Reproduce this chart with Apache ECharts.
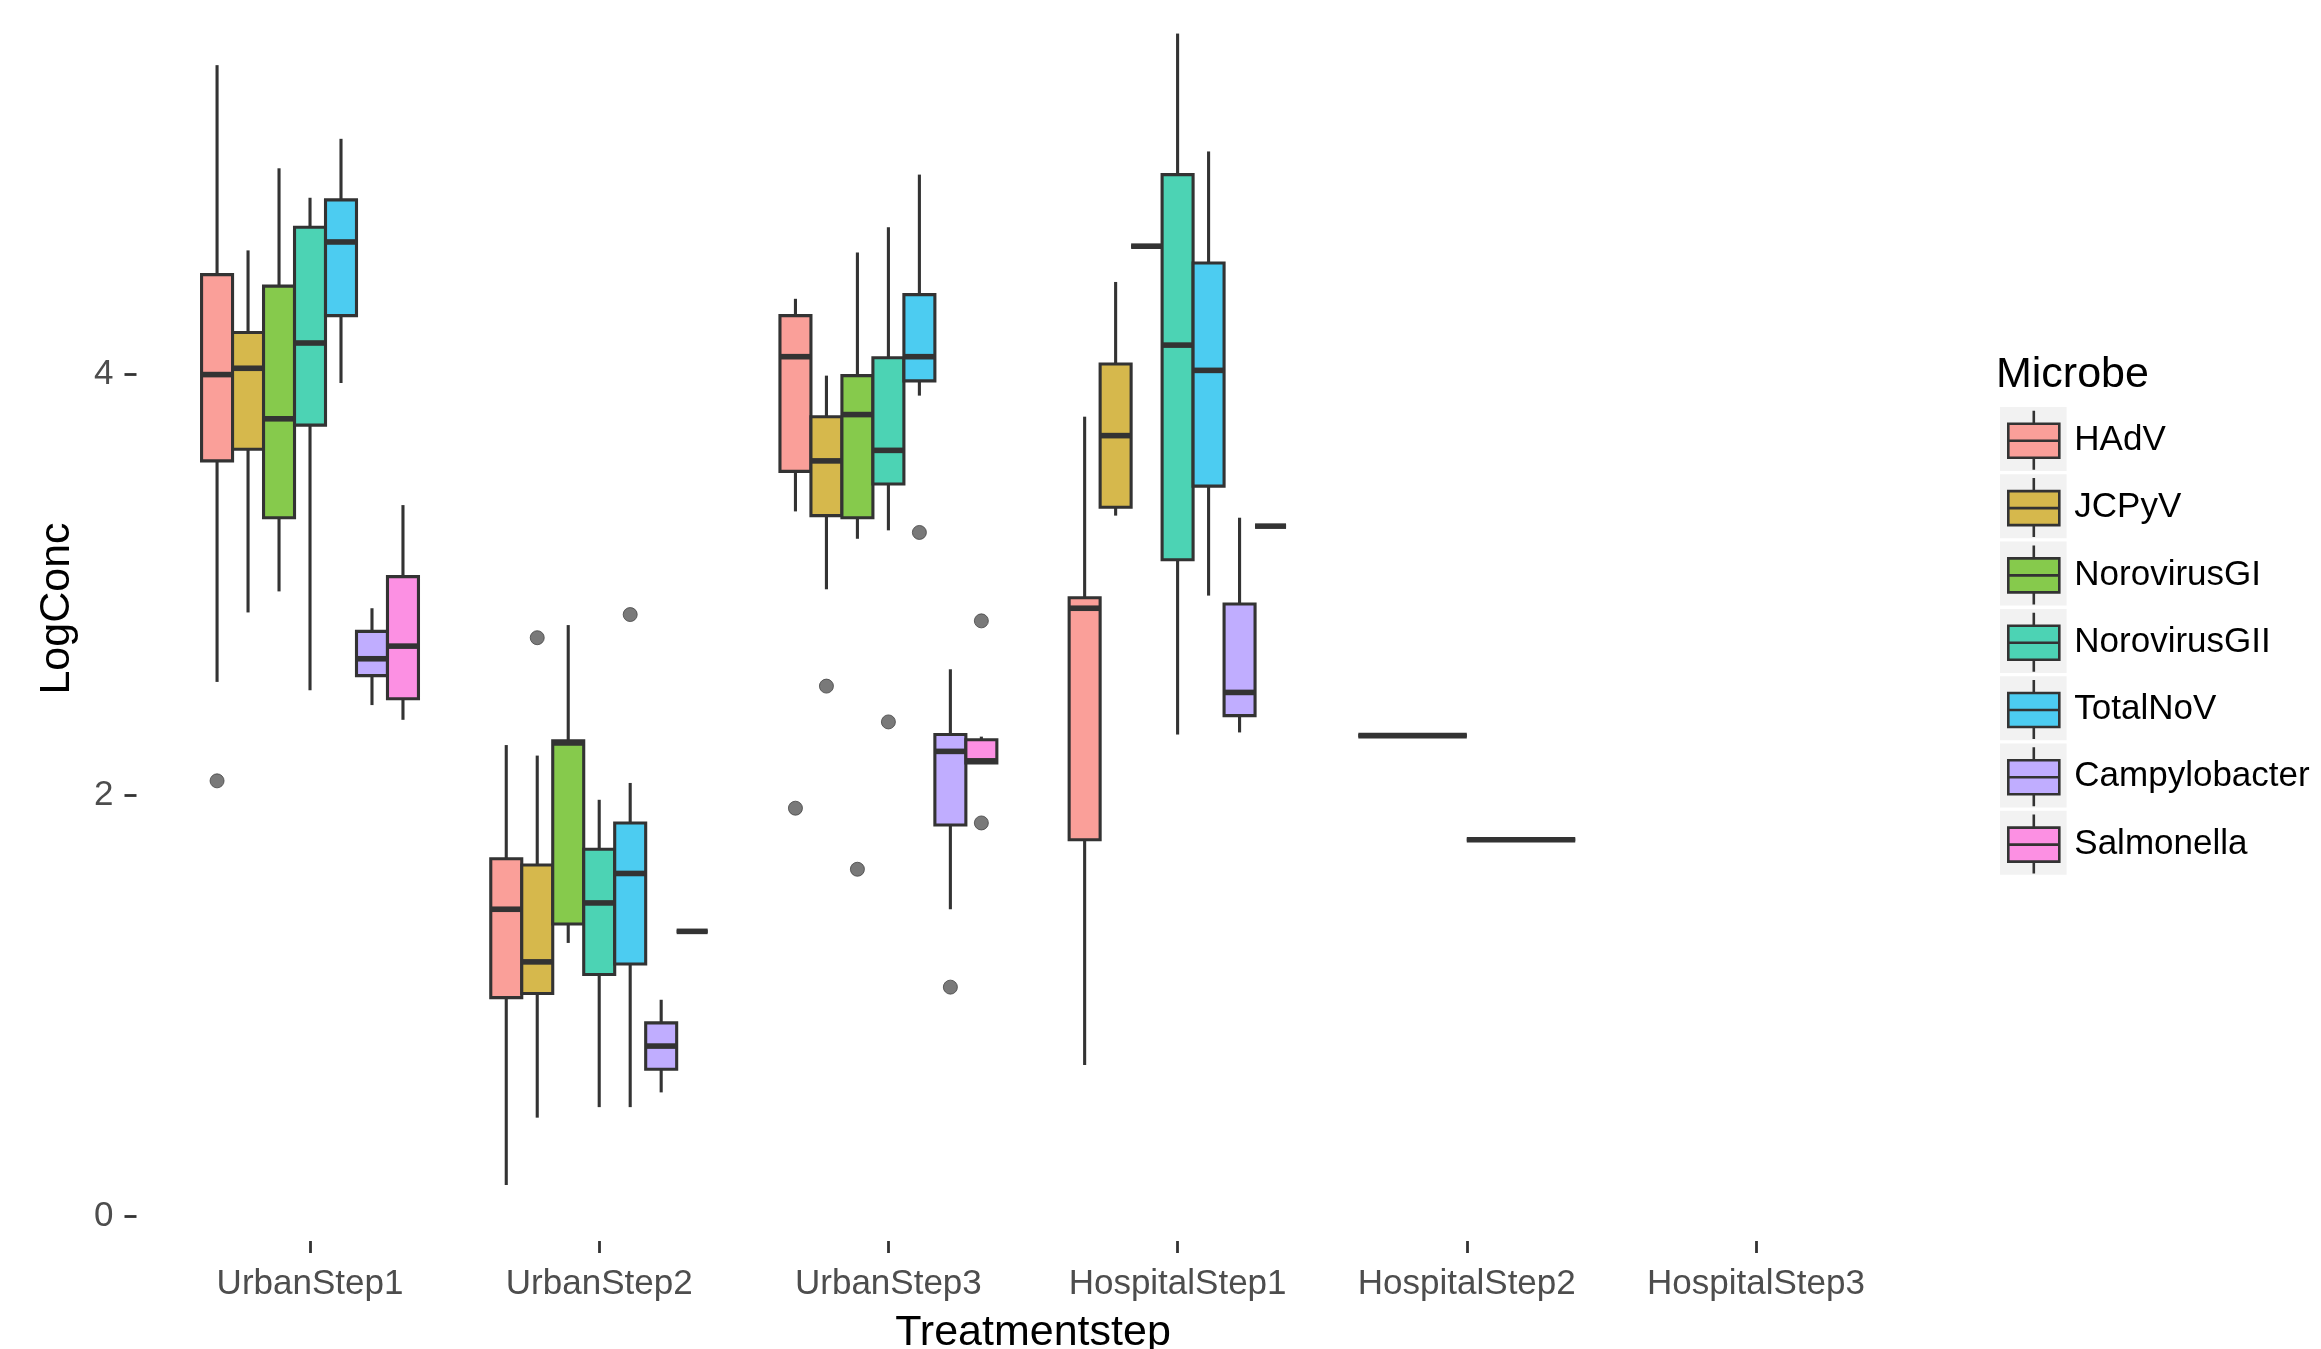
<!DOCTYPE html>
<html><head><meta charset="utf-8">
<script src="https://cdn.jsdelivr.net/npm/echarts@6/dist/echarts.min.js"></script>
<style>html,body{margin:0;padding:0;background:#fff}#c{width:2321px;height:1349px}</style>
</head><body><div id="c"></div>
<script>
const categories = ['UrbanStep1','UrbanStep2','UrbanStep3','HospitalStep1','HospitalStep2','HospitalStep3'];
const microbes = ['HAdV','JCPyV','NorovirusGI','NorovirusGII','TotalNoV','Campylobacter','Salmonella'];
const fillColors = ['#FA9F99','#D6B84C','#86CA4C','#4CD3B4','#4CCCF1','#C0ADFF','#FC90E3'];
const yTicks = [0, 2, 4];

// [lower whisker, Q1, median, Q3, upper whisker] for each treatment step (null = absent)
const statsHAdV = [[2.54,3.59,4.00,4.475,5.47],[0.15,1.04,1.46,1.70,2.24],[3.35,3.54,4.085,4.28,4.36],[0.72,1.79,2.89,2.94,3.80],[2.285,2.285,2.285,2.285,2.285],null];
const statsJCPyV = [[2.87,3.645,4.03,4.20,4.59],[0.47,1.06,1.21,1.67,2.19],[2.98,3.33,3.59,3.80,3.995],[3.33,3.37,3.71,4.05,4.44],[1.79,1.79,1.79,1.79,1.79],null];
const statsNoroGI = [[2.97,3.32,3.79,4.42,4.98],[1.30,1.39,2.25,2.26,2.81],[3.22,3.32,3.81,3.995,4.58],[4.61,4.61,4.61,4.61,4.61],null,null];
const statsNoroGII = [[2.50,3.76,4.15,4.70,4.84],[0.52,1.15,1.49,1.745,1.98],[3.26,3.48,3.64,4.08,4.70],[2.29,3.12,4.14,4.95,5.62],null,null];
const statsTotalNoV = [[3.96,4.28,4.63,4.83,5.12],[0.52,1.20,1.63,1.87,2.06],[3.90,3.97,4.085,4.38,4.95],[2.95,3.47,4.02,4.53,5.06],null,null];
const statsCampylobacter = [[2.43,2.57,2.65,2.78,2.89],[0.59,0.70,0.81,0.92,1.03],[1.46,1.86,2.21,2.29,2.60],[2.30,2.38,2.49,2.91,3.32],null,null];
const statsSalmonella = [[2.36,2.46,2.71,3.04,3.38],[1.355,1.355,1.355,1.355,1.355],[2.155,2.155,2.165,2.265,2.28],[3.28,3.28,3.28,3.28,3.28],null,null];

// outliers: [treatment step index, value]
const outHAdV = [[0,2.07],[2,1.94]];
const outJCPyV = [[1,2.75],[2,2.52]];
const outNoroGI = [[2,1.65]];
const outNoroGII = [[2,2.35]];
const outTotalNoV = [[1,2.86],[2,3.25]];
const outCampylobacter = [[2,1.09]];
const outSalmonella = [[2,2.83],[2,1.87]];

const allStats = [statsHAdV, statsJCPyV, statsNoroGI, statsNoroGII, statsTotalNoV, statsCampylobacter, statsSalmonella];
const allOut = [outHAdV, outJCPyV, outNoroGI, outNoroGII, outTotalNoV, outCampylobacter, outSalmonella];

const DODGE = 0.75;
function slot(ci, mi) {
  const present = [];
  allStats.forEach((s, k) => { if (s[ci]) present.push(k); });
  const n = present.length, k = present.indexOf(mi);
  return { x: ci - DODGE / 2 + (k + 0.5) * DODGE / n, w: DODGE / n };
}

const LINE = '#333333';
const LW = 3.1;
const FONT = 'Liberation Sans, Arial, sans-serif';

const series = microbes.map((name, mi) => {
  const data = [];
  allStats[mi].forEach((s, ci) => {
    if (!s) return;
    const p = slot(ci, mi);
    data.push([p.x, p.w, s[0], s[1], s[2], s[3], s[4]]);
  });
  return {
    name, type: 'custom', color: fillColors[mi],
    encode: { x: 0, y: [2, 3, 4, 5, 6] },
    renderItem: function (params, api) {
      const x = api.value(0), w = api.value(1);
      const lo = api.coord([x, api.value(2)]), q1 = api.coord([x, api.value(3)]);
      const md = api.coord([x, api.value(4)]), q3 = api.coord([x, api.value(5)]);
      const hi = api.coord([x, api.value(6)]);
      const half = api.size([w, 0])[0] / 2;
      const cx = lo[0];
      return { type: 'group', children: [
        { type: 'line', shape: { x1: cx, y1: hi[1], x2: cx, y2: q3[1] }, style: { stroke: LINE, lineWidth: LW } },
        { type: 'line', shape: { x1: cx, y1: q1[1], x2: cx, y2: lo[1] }, style: { stroke: LINE, lineWidth: LW } },
        { type: 'rect', shape: { x: cx - half, y: q3[1], width: 2 * half, height: q1[1] - q3[1] }, style: { fill: fillColors[mi], stroke: LINE, lineWidth: LW } },
        { type: 'line', shape: { x1: cx - half, y1: md[1], x2: cx + half, y2: md[1] }, style: { stroke: LINE, lineWidth: 5.6 } }
      ]};
    },
    data
  };
});

const outlierData = [];
allOut.forEach((arr, mi) => arr.forEach(([ci, v]) => outlierData.push([slot(ci, mi).x, v])));
series.push({ name: 'outliers', type: 'scatter', data: outlierData, symbolSize: 14,
  itemStyle: { color: '#585858', borderColor: '#444', borderWidth: 1 }, z: 3 });

const chart = echarts.init(document.getElementById('c'), null, { renderer: 'canvas' });
chart.setOption({
  backgroundColor: '#ffffff',
  animation: false,
  textStyle: { fontFamily: FONT },
  title: { text: 'Microbe', left: 1996, top: 354, padding: 0,
    textStyle: { fontSize: 43, fontWeight: 'normal', color: '#000', fontFamily: FONT } },
  grid: { left: 136.5, right: 391.5, top: -24, bottom: 108, containLabel: false, outerBoundsMode: 'none' },
  xAxis: {
    type: 'value', min: -0.6, max: 5.6,
    name: 'Treatmentstep', nameLocation: 'middle', nameGap: 71,
    nameTextStyle: { fontSize: 43, color: '#000', fontFamily: FONT },
    axisLine: { show: false, onZero: false },
    splitLine: { show: false },
    axisTick: { show: true, length: 12, customValues: categories.map((_, i) => i), lineStyle: { color: LINE, width: 2.8 } },
    axisLabel: { customValues: categories.map((_, i) => i), formatter: v => categories[Math.round(v)],
      fontSize: 35, color: '#4D4D4D', margin: 26, fontFamily: FONT }
  },
  yAxis: {
    type: 'value', min: -0.116, max: 5.8935,
    name: 'LogConc', nameLocation: 'middle', nameGap: 58, nameRotate: 90,
    nameTextStyle: { fontSize: 43, color: '#000', fontFamily: FONT },
    axisLine: { show: false, onZero: false },
    splitLine: { show: false },
    axisTick: { show: true, length: 12, customValues: yTicks, lineStyle: { color: LINE, width: 2.8 } },
    axisLabel: { customValues: yTicks, fontSize: 35, color: '#4D4D4D', margin: 23, fontFamily: FONT }
  },
  legend: [
    { data: microbes, orient: 'vertical', left: 2000, top: 407, padding: 0, z: 3,
      itemWidth: 64, itemHeight: 61.4, itemGap: 3.3, icon: 'rect', selectedMode: false,
      itemStyle: { color: '#F2F2F2', borderColor: '#F2F2F2', borderWidth: 2.6 }, formatter: () => '', textStyle: { fontSize: 10 } },
    { data: microbes, orient: 'vertical', left: 2007, top: 409.5, padding: 0, z: 4,
      itemWidth: 51, itemHeight: 59, itemGap: 5.7, selectedMode: false,
      icon: 'path://M0,13L51,13L51,47L0,47Z M0,30L51,30 M25.5,0L25.5,13 M25.5,47L25.5,59',
      itemStyle: { borderColor: LINE, borderWidth: 2.6 },
      textStyle: { fontSize: 35, color: '#000', fontFamily: FONT, padding: [0, 0, 0, 10] } }
  ],
  series
});
</script></body></html>
